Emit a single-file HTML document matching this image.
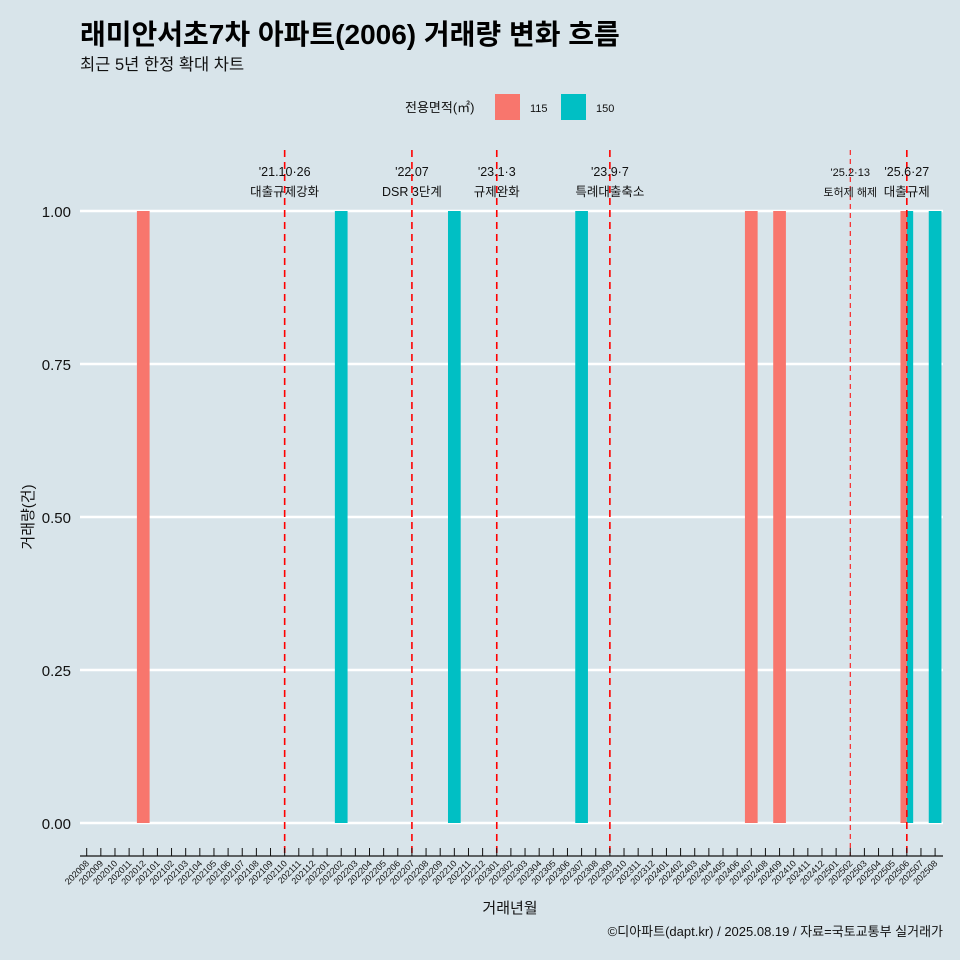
<!DOCTYPE html>
<html><head><meta charset="utf-8"><style>
html,body{margin:0;padding:0;background:#d8e4ea;overflow:hidden;width:960px;height:960px;}
svg{display:block;}
svg text{font-family:"Liberation Sans","Noto Sans CJK KR",sans-serif;}
</style></head><body>
<svg width="960" height="960" viewBox="0 0 960 960" xmlns="http://www.w3.org/2000/svg">
<rect width="960" height="960" fill="#d8e4ea"/>
<text x="80" y="44" font-size="28" font-weight="bold" fill="#000">래미안서초7차 아파트(2006) 거래량 변화 흐름</text>
<text x="80" y="70" font-size="16.5" fill="#111">최근 5년 한정 확대 차트</text>
<g>
<text x="405" y="112" font-size="13" fill="#111">전용면적(㎡)</text>
<rect x="495" y="94" width="25" height="26" fill="#f8766d"/>
<text x="530" y="112" font-size="11" fill="#111">115</text>
<rect x="561" y="94" width="25" height="26" fill="#00bfc4"/>
<text x="596" y="112" font-size="11" fill="#111">150</text>
</g>
<g id="grid"></g><g id="bars"></g><g id="vlines"></g><g id="axes"></g>
<text x="510" y="913" font-size="15" text-anchor="middle" fill="#111">거래년월</text>
<text transform="translate(33,517) rotate(-90)" font-size="15" text-anchor="middle" fill="#111">거래량(건)</text>
<text x="943" y="936" font-size="13" text-anchor="end" fill="#111">©디아파트(dapt.kr) / 2025.08.19 / 자료=국토교통부 실거래가</text>
</svg>
<script>
const months=[];for(let y=2020,m=8;!(y===2025&&m===9);){months.push(y+String(m).padStart(2,'0'));m++;if(m>12){m=1;y++;}}
const yTicks=[0,0.25,0.5,0.75,1];
const yLabels=["0.00","0.25","0.50","0.75","1.00"];
const bars115=[["202012",1],["202407",1],["202409",1],["202506",1]];
const bars150=[["202202",1],["202210",1],["202307",1],["202506",1],["202508",1]];
const eventMonths=["202110","202207","202301","202309","202502","202506"];
const eventDates=["'21.10·26","'22.07","'23.1·3","'23.9·7","'25.2·13","'25.6·27"];
const eventTexts=["대출규제강화","DSR 3단계","규제완화","특례대출축소","토허제 해제","대출규제"];
const NS="http://www.w3.org/2000/svg";
const x=m=>86.7+14.14*months.indexOf(m);
const y=v=>823-612*v;
function mk(t,a,p){const e=document.createElementNS(NS,t);for(const k in a)e.setAttribute(k,a[k]);document.getElementById(p).appendChild(e);return e;}
yTicks.forEach((v,i)=>{
 const l=mk('line',{x1:80,x2:943,y1:y(v),y2:y(v),stroke:'#fff','stroke-width':2.5},'grid');
 
 
 const t=mk('text',{x:71,y:y(v)+6,'font-size':15,'text-anchor':'end',fill:'#111'},'axes');t.textContent=yLabels[i];
 
 
});
const bw=12.7;
const both=bars115.map(b=>b[0]).filter(m=>bars150.some(c=>c[0]===m));
bars115.forEach(([m,v])=>{const d=both.includes(m);const r=mk('rect',{x:x(m)-bw/2,y:y(v),width:d?bw/2:bw,height:y(0)-y(v),fill:'#f8766d'},'bars');
 
 });
bars150.forEach(([m,v])=>{const d=both.includes(m);const r=mk('rect',{x:d?x(m):x(m)-bw/2,y:y(v),width:d?bw/2:bw,height:y(0)-y(v),fill:'#00bfc4'},'bars');
 
 });
eventMonths.forEach((m,i)=>{const small=m==="202502";
 const l=mk('line',{x1:x(m),x2:x(m),y1:150,y2:856,stroke:'#ff0000','stroke-width':small?1:1.6,'stroke-dasharray':small?'5,4':'7,5'},'vlines');
 
 
 const fs=small?11:12.5;
 const t1=mk('text',{x:x(m),y:176,'font-size':fs,'text-anchor':'middle',fill:'#111'},'vlines');t1.textContent=eventDates[i];
 
 
 const t2=mk('text',{x:x(m),y:196,'font-size':fs,'text-anchor':'middle',fill:'#111'},'vlines');t2.textContent=eventTexts[i];
 
 
});
const ax=mk('line',{x1:80,x2:943,y1:856,y2:856,stroke:'#111','stroke-width':1.2},'axes');


months.forEach(m=>{
 const tk=mk('line',{x1:x(m),x2:x(m),y1:848,y2:856,stroke:'#111','stroke-width':1},'axes');
 
 
 const t=mk('text',{x:x(m)+3,y:864,'font-size':9,'text-anchor':'end',fill:'#111',transform:`rotate(-45 ${x(m)+3} 864)`},'axes');t.textContent=m;
 
 
});
</script>
</body></html>
